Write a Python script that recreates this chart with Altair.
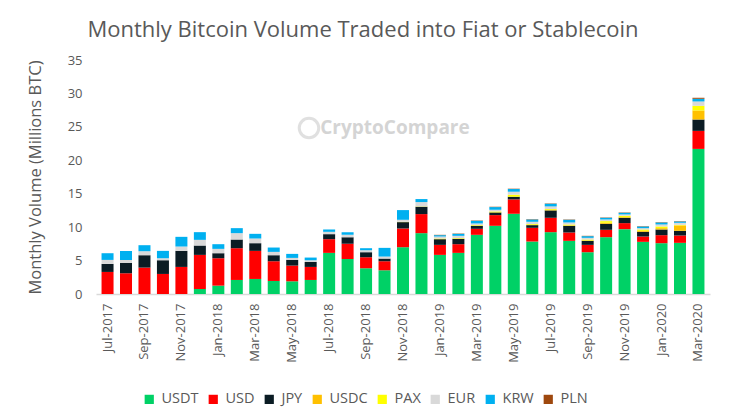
import altair as alt
import pandas as pd

months = ["Jul-2017","Aug-2017","Sep-2017","Oct-2017","Nov-2017","Dec-2017",
          "Jan-2018","Feb-2018","Mar-2018","Apr-2018","May-2018","Jun-2018",
          "Jul-2018","Aug-2018","Sep-2018","Oct-2018","Nov-2018","Dec-2018",
          "Jan-2019","Feb-2019","Mar-2019","Apr-2019","May-2019","Jun-2019",
          "Jul-2019","Aug-2019","Sep-2019","Oct-2019","Nov-2019","Dec-2019",
          "Jan-2020","Feb-2020","Mar-2020"]

usdt = [0,0,0,0,0,0.75,1.25,2.1,2.25,1.95,1.9,2.1,6.15,5.25,3.85,3.55,7.0,9.1,
        5.85,6.15,8.85,10.2,12.0,7.85,9.25,7.95,6.25,8.5,9.7,7.8,7.6,7.65,21.7]
usd = [3.3,3.1,3.95,3.0,4.05,5.1,4.1,4.75,4.2,2.95,2.35,1.95,2.05,2.25,1.65,1.35,2.8,2.85,
       1.5,1.3,0.9,1.6,2.15,2.05,2.15,1.25,1.1,1.1,0.9,0.8,1.2,1.1,2.7]
jpy = [1.2,1.55,1.85,2.05,2.4,1.4,0.75,1.3,1.15,0.9,0.85,0.75,0.75,1.0,0.75,0.4,0.95,1.1,
       0.85,0.8,0.45,0.4,0.4,0.4,1.1,1.0,0.6,0.9,0.8,0.7,0.85,0.7,1.7]
usdc = [0,0,0,0,0,0,0,0,0,0,0,0,0,0,0,0,0,0,
        0,0,0,0,0,0,0.05,0.05,0.05,0.15,0.1,0.15,0.2,0.8,1.35]
pax = [0,0,0,0,0,0,0,0,0,0,0,0,0,0,0,0,0.05,0.05,
       0.1,0.1,0.1,0.15,0.3,0.15,0.15,0.15,0.15,0.25,0.2,0.2,0.25,0.1,0.7]
eur = [0.6,0.45,0.6,0.3,0.65,0.85,0.65,0.95,0.7,0.5,0.3,0.25,0.35,0.35,0.3,0.3,0.3,0.65,
       0.3,0.35,0.25,0.25,0.45,0.35,0.4,0.3,0.25,0.25,0.2,0.2,0.3,0.3,0.65]
krw = [1.0,1.35,0.9,1.1,1.45,1.15,0.7,0.75,0.7,0.65,0.6,0.4,0.35,0.4,0.3,1.3,1.45,0.45,
       0.2,0.3,0.4,0.4,0.4,0.35,0.4,0.4,0.25,0.25,0.25,0.25,0.3,0.2,0.4]
pln = [0,0,0,0,0,0,0,0,0,0,0,0,0,0,0,0,0,0,
       0.05,0.05,0.05,0.05,0.05,0.05,0.05,0.05,0.05,0.05,0.05,0.05,0.05,0.05,0.15]

series = ["USDT","USD","JPY","USDC","PAX","EUR","KRW","PLN"]
colors = ["#00D166","#FF0000","#0B1C24","#FFC000","#FFFF00","#D9D9D9","#00B0F0","#9E480E"]
values = [usdt, usd, jpy, usdc, pax, eur, krw, pln]

rows = []
for si, (name, vals) in enumerate(zip(series, values)):
    for m, v in zip(months, vals):
        rows.append({"month": m, "series": name, "order": si, "value": v})
df = pd.DataFrame(rows)

FONT = "Open Sans"
GREY = "#595959"

bars = alt.Chart(df).mark_bar().encode(
    x=alt.X("month:N", sort=months,
            scale=alt.Scale(paddingInner=0.35, paddingOuter=0.3),
            axis=alt.Axis(title=None, values=months[::2], labelAngle=-90,
                          labelFontSize=13, labelColor=GREY, labelFont=FONT,
                          labelPadding=9, ticks=False, domainColor="#D9D9D9",
                          domainWidth=1.5)),
    y=alt.Y("value:Q", stack="zero",
            scale=alt.Scale(domain=[0, 35]),
            axis=alt.Axis(title="Monthly Volume (Millions BTC)", values=list(range(0, 36, 5)),
                          grid=False, domain=False, ticks=False,
                          labelFontSize=13, labelColor=GREY, labelFont=FONT,
                          labelPadding=14, titleFontSize=16.5, titleColor=GREY,
                          titleFont=FONT, titleFontWeight="normal", titlePadding=24)),
    color=alt.Color("series:N", sort=series,
                    scale=alt.Scale(domain=series, range=colors),
                    legend=alt.Legend(title=None, orient="none", direction="horizontal",
                                      legendX=46, legendY=332, symbolType="square",
                                      symbolSize=85, symbolStrokeWidth=0,
                                      labelFontSize=14.5, labelColor=GREY, labelFont=FONT,
                                      columnPadding=7, labelOffset=5)),
    order=alt.Order("order:Q", sort="ascending"),
)

wm = pd.DataFrame({"t": ["CryptoCompare"]})
watermark = alt.Chart(wm).mark_text(
    font=FONT, fontSize=19, fontWeight="bold", color="#D4D4D4", align="center", baseline="middle"
).encode(text="t:N", x=alt.value(299), y=alt.value(68))
icon = alt.Chart(wm).mark_point(
    shape="circle", filled=False, color="#D4D4D4", strokeWidth=3, size=380
).encode(x=alt.value(213), y=alt.value(68))

chart = alt.layer(watermark, icon, bars).properties(
    width=614, height=234,
    autosize=alt.AutoSizeParams(type="none"),
    padding={"left": 88, "top": 52, "right": 21, "bottom": 116},
    title=alt.Title("Monthly Bitcoin Volume Traded into Fiat or Stablecoin",
                    fontSize=22, font=FONT, fontWeight="normal", color=GREY,
                    anchor="middle", dx=-40, offset=12),
).configure_view(stroke=None)

chart.save("out.html", embed_options={"renderer": "svg", "actions": False})
